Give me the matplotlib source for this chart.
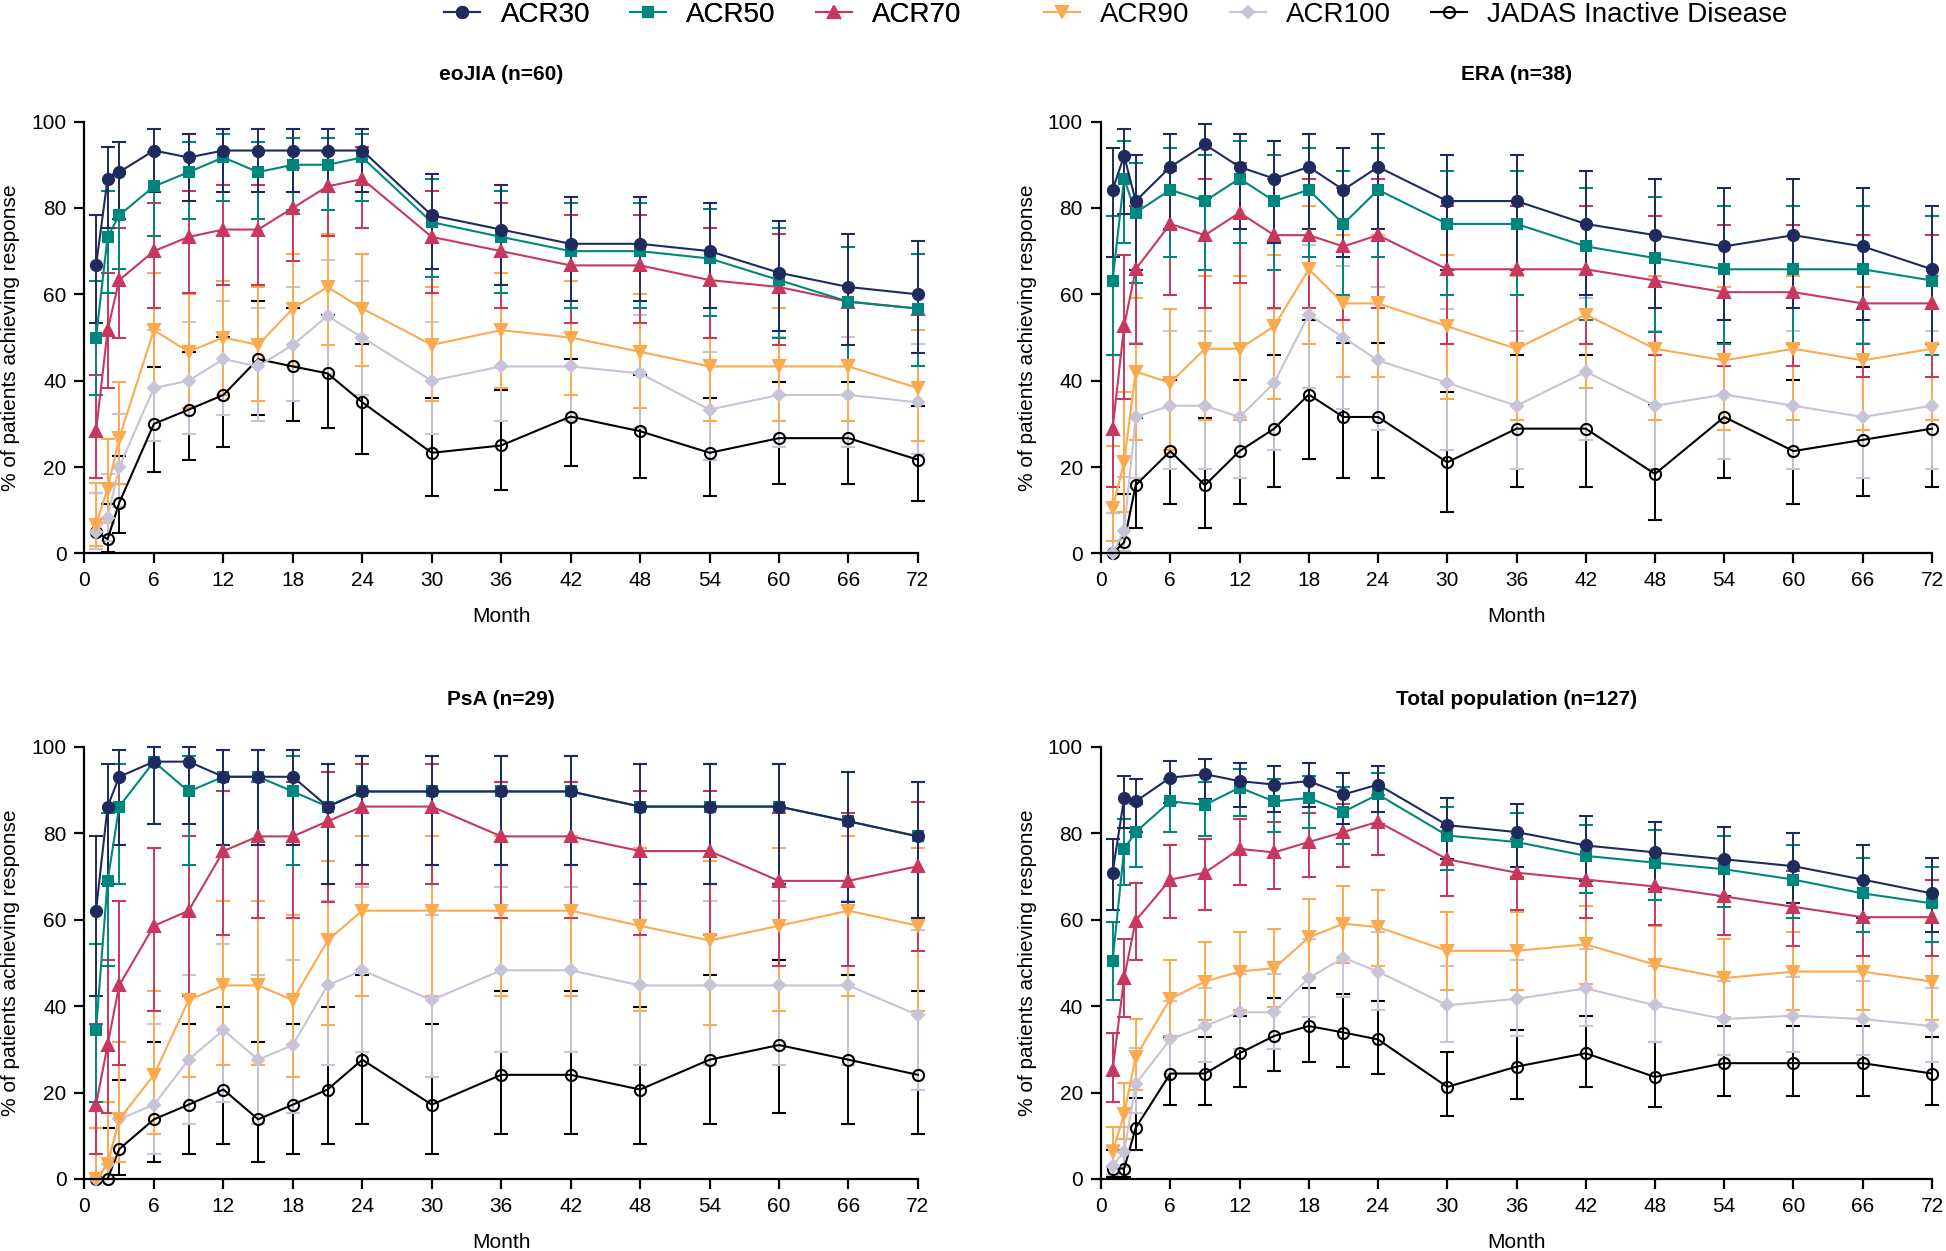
import matplotlib
matplotlib.use("Agg")
import matplotlib.pyplot as plt
from matplotlib.lines import Line2D
import numpy as np

plt.rcParams['font.family'] = ['Liberation Sans', 'DejaVu Sans']

months = [1, 2, 3, 6, 9, 12, 15, 18, 21, 24, 30, 36, 42, 48, 54, 60, 66, 72]
series = ['ACR30', 'ACR50', 'ACR70', 'ACR90', 'ACR100', 'JADAS Inactive Disease']
titles = ['eoJIA (n=60)', 'ERA (n=38)', 'PsA (n=29)', 'Total population (n=127)']

# rows: ACR30, ACR50, ACR70, ACR90, ACR100, JADAS  (values in %)
eojia_mean = [
    [66.7, 86.7, 88.3, 93.3, 91.7, 93.3, 93.3, 93.3, 93.3, 93.3, 78.3, 75.0, 71.7, 71.7, 70.0, 65.0, 61.7, 60.0],
    [50.0, 73.3, 78.3, 85.0, 88.3, 91.7, 88.3, 90.0, 90.0, 91.7, 76.7, 73.3, 70.0, 70.0, 68.3, 63.3, 58.3, 56.7],
    [28.3, 51.7, 63.3, 70.0, 73.3, 75.0, 75.0, 80.0, 85.0, 86.7, 73.3, 70.0, 66.7, 66.7, 63.3, 61.7, 58.3, 56.7],
    [6.7, 15.0, 26.7, 51.7, 46.7, 50.0, 48.3, 56.7, 61.7, 56.7, 48.3, 51.7, 50.0, 46.7, 43.3, 43.3, 43.3, 38.3],
    [5.0, 8.3, 20.0, 38.3, 40.0, 45.0, 43.3, 48.3, 55.0, 50.0, 40.0, 43.3, 43.3, 41.7, 33.3, 36.7, 36.7, 35.0],
    [5.0, 3.3, 11.7, 30.0, 33.3, 36.7, 45.0, 43.3, 41.7, 35.0, 23.3, 25.0, 31.7, 28.3, 23.3, 26.7, 26.7, 21.7],
]
eojia_lo = [
    [53.3, 75.4, 77.4, 83.8, 81.6, 83.8, 83.8, 83.8, 83.8, 83.8, 65.8, 62.1, 58.5, 58.5, 56.8, 51.6, 48.2, 46.5],
    [36.8, 60.3, 65.8, 73.4, 77.4, 81.6, 77.4, 79.5, 79.5, 81.6, 64.0, 60.3, 56.8, 56.8, 55.0, 49.9, 44.9, 43.3],
    [17.5, 38.4, 49.9, 56.8, 60.3, 62.1, 62.1, 67.7, 73.4, 75.4, 60.3, 56.8, 53.3, 53.3, 49.9, 48.2, 44.9, 43.3],
    [1.8, 7.1, 16.1, 38.4, 33.7, 36.8, 35.2, 43.3, 48.2, 43.3, 35.2, 38.4, 36.8, 33.7, 30.6, 30.6, 30.6, 26.1],
    [1.0, 2.8, 10.8, 26.1, 27.6, 32.1, 30.6, 35.2, 41.6, 36.8, 27.6, 30.6, 30.6, 29.1, 21.7, 24.6, 24.6, 23.1],
    [1.0, 0.4, 4.8, 18.8, 21.7, 24.6, 32.1, 30.6, 29.1, 23.1, 13.4, 14.7, 20.3, 17.5, 13.4, 16.1, 16.1, 12.1],
]
eojia_hi = [
    [78.3, 94.1, 95.2, 98.2, 97.2, 98.2, 98.2, 98.2, 98.2, 98.2, 87.9, 85.3, 82.6, 82.6, 81.2, 76.9, 73.9, 72.4],
    [63.2, 83.9, 87.9, 92.9, 95.2, 97.2, 95.2, 96.2, 96.2, 97.2, 86.6, 83.9, 81.2, 81.2, 79.7, 75.4, 70.9, 69.4],
    [41.4, 64.9, 75.4, 81.2, 83.9, 85.3, 85.3, 89.2, 92.9, 94.1, 83.9, 81.2, 78.3, 78.3, 75.4, 73.9, 70.9, 69.4],
    [16.2, 26.6, 39.7, 64.9, 60.0, 63.2, 61.6, 69.4, 73.9, 69.4, 61.6, 64.9, 63.2, 60.0, 56.8, 56.8, 56.8, 51.8],
    [13.9, 18.4, 32.3, 51.8, 53.5, 58.4, 56.8, 61.6, 67.9, 63.2, 53.5, 56.8, 56.8, 55.1, 46.7, 50.1, 50.1, 48.4],
    [13.9, 11.5, 22.6, 43.2, 46.7, 50.1, 58.4, 56.8, 55.1, 48.4, 36.0, 37.9, 45.0, 41.4, 36.0, 39.7, 39.7, 34.2],
]

era_mean = [
    [84.2, 92.1, 81.6, 89.5, 94.7, 89.5, 86.8, 89.5, 84.2, 89.5, 81.6, 81.6, 76.3, 73.7, 71.1, 73.7, 71.1, 65.8],
    [63.2, 86.8, 78.9, 84.2, 81.6, 86.8, 81.6, 84.2, 76.3, 84.2, 76.3, 76.3, 71.1, 68.4, 65.8, 65.8, 65.8, 63.2],
    [28.9, 52.6, 65.8, 76.3, 73.7, 78.9, 73.7, 73.7, 71.1, 73.7, 65.8, 65.8, 65.8, 63.2, 60.5, 60.5, 57.9, 57.9],
    [10.5, 21.1, 42.1, 39.5, 47.4, 47.4, 52.6, 65.8, 57.9, 57.9, 52.6, 47.4, 55.3, 47.4, 44.7, 47.4, 44.7, 47.4],
    [0.0, 5.3, 31.6, 34.2, 34.2, 31.6, 39.5, 55.3, 50.0, 44.7, 39.5, 34.2, 42.1, 34.2, 36.8, 34.2, 31.6, 34.2],
    [0.0, 2.6, 15.8, 23.7, 15.8, 23.7, 28.9, 36.8, 31.6, 31.6, 21.1, 28.9, 28.9, 18.4, 31.6, 23.7, 26.3, 28.9],
]
era_lo = [
    [68.7, 78.6, 65.7, 75.2, 82.3, 75.2, 71.9, 75.2, 68.7, 75.2, 65.7, 65.7, 59.8, 56.9, 54.1, 56.9, 54.1, 48.6],
    [46.0, 71.9, 62.7, 68.7, 65.7, 71.9, 65.7, 68.7, 59.8, 68.7, 59.8, 59.8, 54.1, 51.3, 48.6, 48.6, 48.6, 46.0],
    [15.4, 35.8, 48.6, 59.8, 56.9, 62.7, 56.9, 56.9, 54.1, 56.9, 48.6, 48.6, 48.6, 46.0, 43.4, 43.4, 40.8, 40.8],
    [2.9, 9.6, 26.3, 24.0, 31.0, 31.0, 35.8, 48.6, 40.8, 40.8, 35.8, 31.0, 38.3, 31.0, 28.6, 31.0, 28.6, 31.0],
    [0.0, 0.6, 17.5, 19.6, 19.6, 17.5, 24.0, 38.3, 33.4, 28.6, 24.0, 19.6, 26.3, 19.6, 21.8, 19.6, 17.5, 19.6],
    [0.0, 0.1, 6.0, 11.4, 6.0, 11.4, 15.4, 21.8, 17.5, 17.5, 9.6, 15.4, 15.4, 7.7, 17.5, 11.4, 13.4, 15.4],
]
era_hi = [
    [94.0, 98.3, 92.3, 97.1, 99.4, 97.1, 95.6, 97.1, 94.0, 97.1, 92.3, 92.3, 88.6, 86.6, 84.6, 86.6, 84.6, 80.4],
    [78.2, 95.6, 90.4, 94.0, 92.3, 95.6, 92.3, 94.0, 88.6, 94.0, 88.6, 88.6, 84.6, 82.5, 80.4, 80.4, 80.4, 78.2],
    [45.9, 69.0, 80.4, 88.6, 86.6, 90.4, 86.6, 86.6, 84.6, 86.6, 80.4, 80.4, 80.4, 78.2, 76.0, 76.0, 73.7, 73.7],
    [24.8, 37.3, 59.2, 56.6, 64.2, 64.2, 69.0, 80.4, 73.7, 73.7, 69.0, 64.2, 71.4, 64.2, 61.7, 64.2, 61.7, 64.2],
    [9.3, 17.7, 48.7, 51.4, 51.4, 48.7, 56.6, 71.4, 66.6, 61.7, 56.6, 51.4, 59.2, 51.4, 54.0, 51.4, 48.7, 51.4],
    [9.3, 13.8, 31.3, 40.2, 31.3, 40.2, 45.9, 54.0, 48.7, 48.7, 37.3, 45.9, 45.9, 34.3, 48.7, 40.2, 43.1, 45.9],
]

psa_mean = [
    [62.1, 86.2, 93.1, 96.6, 96.6, 93.1, 93.1, 93.1, 86.2, 89.7, 89.7, 89.7, 89.7, 86.2, 86.2, 86.2, 82.8, 79.3],
    [34.5, 69.0, 86.2, 96.6, 89.7, 93.1, 93.1, 89.7, 86.2, 89.7, 89.7, 89.7, 89.7, 86.2, 86.2, 86.2, 82.8, 79.3],
    [17.2, 31.0, 44.8, 58.6, 62.1, 75.9, 79.3, 79.3, 82.8, 86.2, 86.2, 79.3, 79.3, 75.9, 75.9, 69.0, 69.0, 72.4],
    [0.0, 3.4, 13.8, 24.1, 41.4, 44.8, 44.8, 41.4, 55.2, 62.1, 62.1, 62.1, 62.1, 58.6, 55.2, 58.6, 62.1, 58.6],
    [0.0, 3.4, 13.8, 17.2, 27.6, 34.5, 27.6, 31.0, 44.8, 48.3, 41.4, 48.3, 48.3, 44.8, 44.8, 44.8, 44.8, 37.9],
    [0.0, 0.0, 6.9, 13.8, 17.2, 20.7, 13.8, 17.2, 20.7, 27.6, 17.2, 24.1, 24.1, 20.7, 27.6, 31.0, 27.6, 24.1],
]
psa_lo = [
    [42.3, 68.3, 77.2, 82.2, 82.2, 77.2, 77.2, 77.2, 68.3, 72.6, 72.6, 72.6, 72.6, 68.3, 68.3, 68.3, 64.2, 60.3],
    [17.9, 49.2, 68.3, 82.2, 72.6, 77.2, 77.2, 72.6, 68.3, 72.6, 72.6, 72.6, 72.6, 68.3, 68.3, 68.3, 64.2, 60.3],
    [5.8, 15.3, 26.4, 38.9, 42.3, 56.5, 60.3, 60.3, 64.2, 68.3, 68.3, 60.3, 60.3, 56.5, 56.5, 49.2, 49.2, 52.8],
    [0.0, 0.1, 3.9, 10.3, 23.5, 26.4, 26.4, 23.5, 35.7, 42.3, 42.3, 42.3, 42.3, 38.9, 35.7, 38.9, 42.3, 38.9],
    [0.0, 0.1, 3.9, 5.8, 12.7, 17.9, 12.7, 15.3, 26.4, 29.4, 23.5, 29.4, 29.4, 26.4, 26.4, 26.4, 26.4, 20.7],
    [0.0, 0.0, 0.8, 3.9, 5.8, 8.0, 3.9, 5.8, 8.0, 12.7, 5.8, 10.3, 10.3, 8.0, 12.7, 15.3, 12.7, 10.3],
]
psa_hi = [
    [79.3, 96.1, 99.2, 99.9, 99.9, 99.2, 99.2, 99.2, 96.1, 97.8, 97.8, 97.8, 97.8, 96.1, 96.1, 96.1, 94.2, 92.0],
    [54.3, 84.7, 96.1, 99.9, 97.8, 99.2, 99.2, 97.8, 96.1, 97.8, 97.8, 97.8, 97.8, 96.1, 96.1, 96.1, 94.2, 92.0],
    [35.8, 50.8, 64.3, 76.5, 79.3, 89.7, 92.0, 92.0, 94.2, 96.1, 96.1, 92.0, 92.0, 89.7, 89.7, 84.7, 84.7, 87.3],
    [11.9, 17.8, 31.7, 43.5, 61.1, 64.3, 64.3, 61.1, 73.6, 79.3, 79.3, 79.3, 79.3, 76.5, 73.6, 76.5, 79.3, 76.5],
    [11.9, 17.8, 31.7, 35.8, 47.2, 54.3, 47.2, 50.8, 64.3, 67.5, 61.1, 67.5, 67.5, 64.3, 64.3, 64.3, 64.3, 57.7],
    [11.9, 11.9, 22.8, 31.7, 35.8, 39.7, 31.7, 35.8, 39.7, 47.2, 35.8, 43.5, 43.5, 39.7, 47.2, 50.8, 47.2, 43.5],
]

total_mean = [
    [70.9, 88.2, 87.4, 92.9, 93.7, 92.1, 91.3, 92.1, 89.0, 91.3, 81.9, 80.3, 77.2, 75.6, 74.0, 72.4, 69.3, 66.1],
    [50.4, 76.4, 80.3, 87.4, 86.6, 90.6, 87.4, 88.2, 85.0, 89.0, 79.5, 78.0, 74.8, 73.2, 71.7, 69.3, 66.1, 63.8],
    [25.2, 46.5, 59.8, 69.3, 70.9, 76.4, 75.6, 78.0, 80.3, 82.7, 74.0, 70.9, 69.3, 67.7, 65.4, 63.0, 60.6, 60.6],
    [6.3, 15.0, 28.3, 41.7, 45.7, 48.0, 48.8, 55.9, 59.1, 58.3, 52.8, 52.8, 54.3, 49.6, 46.5, 48.0, 48.0, 45.7],
    [3.1, 6.3, 22.0, 32.3, 35.4, 38.6, 38.6, 46.5, 51.2, 48.0, 40.2, 41.7, 44.1, 40.2, 37.0, 37.8, 37.0, 35.4],
    [2.4, 2.4, 11.8, 24.4, 24.4, 29.1, 33.1, 35.4, 33.9, 32.3, 21.3, 26.0, 29.1, 23.6, 26.8, 26.8, 26.8, 24.4],
]
total_lo = [
    [62.2, 81.3, 80.3, 87.0, 88.0, 86.0, 85.0, 86.0, 82.2, 85.0, 74.1, 72.3, 68.9, 67.2, 65.5, 63.8, 60.5, 57.2],
    [41.4, 68.1, 72.3, 80.3, 79.4, 84.1, 80.3, 81.3, 77.6, 82.2, 71.5, 69.8, 66.3, 64.6, 63.0, 60.5, 57.2, 54.8],
    [17.9, 37.6, 50.8, 60.5, 62.2, 68.1, 67.2, 69.8, 72.3, 75.0, 65.5, 62.2, 60.5, 58.8, 56.4, 54.0, 51.5, 51.5],
    [2.8, 9.3, 20.7, 33.0, 36.9, 39.1, 39.9, 46.8, 50.0, 49.2, 43.7, 43.7, 45.2, 40.6, 37.6, 39.1, 39.1, 36.9],
    [0.9, 2.8, 15.2, 24.3, 27.1, 30.1, 30.1, 37.6, 42.2, 39.1, 31.6, 33.0, 35.3, 31.6, 28.6, 29.3, 28.6, 27.1],
    [0.5, 0.5, 6.8, 17.2, 17.2, 21.4, 25.0, 27.1, 25.8, 24.3, 14.5, 18.6, 21.4, 16.6, 19.3, 19.3, 19.3, 17.2],
]
total_hi = [
    [78.6, 93.2, 92.6, 96.7, 97.2, 96.2, 95.6, 96.2, 93.9, 95.6, 88.2, 86.9, 84.1, 82.7, 81.4, 80.0, 77.2, 74.3],
    [59.4, 83.4, 86.9, 92.6, 92.0, 95.0, 92.6, 93.2, 90.8, 93.9, 86.2, 84.8, 82.0, 80.7, 79.3, 77.2, 74.3, 72.2],
    [33.7, 55.5, 68.5, 77.2, 78.6, 83.4, 82.7, 84.8, 86.9, 88.9, 81.4, 78.6, 77.2, 75.7, 73.6, 71.4, 69.2, 69.2],
    [12.0, 22.2, 37.0, 50.7, 54.8, 57.1, 57.8, 64.7, 67.8, 67.0, 61.7, 61.7, 63.2, 58.6, 55.5, 57.1, 57.1, 54.8],
    [7.9, 12.0, 30.2, 41.1, 44.3, 47.5, 47.5, 55.5, 60.1, 57.1, 49.2, 50.7, 53.2, 49.2, 45.9, 46.7, 45.9, 44.3],
    [6.7, 6.7, 18.7, 32.8, 32.8, 37.8, 41.9, 44.3, 42.7, 41.1, 29.4, 34.5, 37.8, 31.7, 35.3, 35.3, 35.3, 32.8],
]

colors = ['#1f2a5e', '#00877d', '#c8385e', '#fbaa50', '#c6c4d6', '#000000']
markers = ['o', 's', '^', 'v', 'D', 'o']
msizes = [8, 7.5, 8, 8, 6, 8]

panels = [(eojia_mean, eojia_lo, eojia_hi),
          (era_mean, era_lo, era_hi),
          (psa_mean, psa_lo, psa_hi),
          (total_mean, total_lo, total_hi)]

fig = plt.figure(figsize=(19.46, 12.51), dpi=100)
boxes = [[0.0434, 0.5576, 0.4283, 0.3452],
         [0.5658, 0.5576, 0.4270, 0.3452],
         [0.0434, 0.0576, 0.4283, 0.3453],
         [0.5658, 0.0576, 0.4270, 0.3453]]

for p, (mean, lo, hi) in enumerate(panels):
    ax = fig.add_axes(boxes[p])
    # JADAS first so ACR30 ends on top
    for i in reversed(range(6)):
        m = np.array(mean[i])
        err = [m - np.array(lo[i]), np.array(hi[i]) - m]
        face = 'none' if i == 5 else colors[i]
        h = ax.errorbar(months, m, yerr=err, color=colors[i], marker=markers[i],
                        ms=msizes[i], mfc=face, mec=colors[i], mew=1.5,
                        lw=1.5, elinewidth=1.4, capsize=5, capthick=1.4,
                        clip_on=False)
        for art in h.lines[1] + h.lines[2]:
            art.set_clip_on(False)
    ax.set_xlim(0, 72)
    ax.set_ylim(0, 100)
    ax.set_xticks(np.arange(0, 73, 6))
    ax.set_yticks(np.arange(0, 101, 20))
    ax.spines['top'].set_visible(False)
    ax.spines['right'].set_visible(False)
    ax.spines['left'].set_linewidth(1.6)
    ax.spines['bottom'].set_linewidth(1.6)
    ax.tick_params(axis='both', direction='out', length=7, width=1.6, labelsize=15, pad=6)
    ax.set_xlabel('Month', fontsize=15, labelpad=12)
    ax.set_ylabel('% of patients achieving response', fontsize=15, labelpad=8)
    ax.set_title(titles[p], fontsize=15, fontweight='bold', pad=30)

# legend handles: line + marker only
proxies = []
for i in range(6):
    face = 'none' if i == 5 else colors[i]
    proxies.append(Line2D([], [], color=colors[i], marker=markers[i], ms=msizes[i],
                          mfc=face, mec=colors[i], mew=1.5, lw=1.5))

leg_kw = dict(loc='center left', ncol=3, frameon=False, fontsize=20,
              columnspacing=1.45, handlelength=1.3, handletextpad=0.72,
              borderpad=0.4)
leg1 = fig.legend(proxies[:3], series[:3], bbox_to_anchor=(0.2155, 0.988), **leg_kw)
fig.add_artist(leg1)
fig.legend(proxies[3:], series[3:], bbox_to_anchor=(0.5235, 0.988), **leg_kw)

fig.savefig('out.png', dpi=100)
